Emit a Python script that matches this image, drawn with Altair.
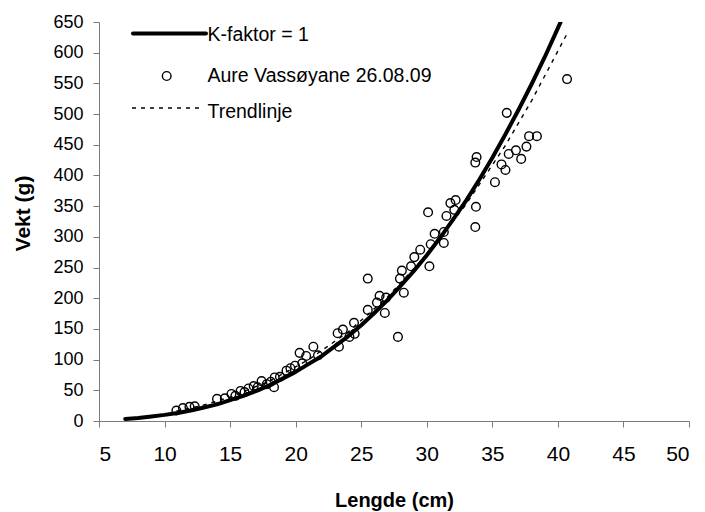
import pandas as pd
import altair as alt

# K-faktor = 1 curve
k_len = [7, 8, 9, 10, 11, 12, 13, 14, 15, 16, 17, 18, 19, 20, 21, 22, 23, 24,
         25, 26, 27, 28, 29, 30, 31, 32, 33, 34, 35, 36, 37, 38, 39, 40, 40.5]
k_wt = [3.4, 5, 7.5, 10, 13, 17, 22, 27, 34, 41, 49, 58, 69, 80, 93, 106, 122, 138,
        156, 176, 197, 220, 244, 270, 298, 328, 359, 393, 429, 467, 507, 549, 593, 640, 664]

# fish sampled at Vassøyane 26.08.09
fish_len = [10.9, 11.4, 11.9, 12.3, 14.0, 14.6, 15.1, 15.4, 15.8, 16.1, 16.4, 16.8,
            17.1, 17.4, 17.8, 18.1, 18.35, 18.4, 18.8, 19.3, 19.6, 19.95, 20.3, 20.5,
            20.8, 21.35, 21.7, 23.2, 23.3, 23.6, 24.1, 24.45, 24.5, 25.5, 25.5, 26.2,
            26.4, 26.8, 26.9, 27.8, 27.95, 28.1, 28.25, 28.8, 29.05, 29.5, 30.1, 30.2,
            30.3, 30.6, 31.3, 31.3, 31.5, 31.8, 32.1, 32.2, 33.7, 33.75, 33.7, 33.8,
            35.2, 35.7, 36.0, 36.1, 36.25, 36.8, 37.2, 37.6, 37.8, 38.4, 40.7]
fish_wt = [17, 21, 23, 24, 36, 37, 44, 41, 49, 47, 53, 57,
           55, 65, 60, 64, 55, 71, 72, 82, 86, 90, 111, 94,
           106, 121, 107, 143, 121, 149, 137, 160, 142, 181, 232, 193,
           204, 176, 201, 137, 232, 245, 209, 252, 267, 279, 340, 252,
           288, 305, 290, 308, 334, 355, 344, 360, 316, 349, 421, 430,
           389, 418, 409, 502, 435, 441, 427, 447, 464, 464, 557]

# trendline
trend_len = [10.9, 13, 15, 18, 21, 24, 27, 30, 33, 36, 38, 40.7]
trend_wt = [16, 26, 39, 65, 100, 145, 202, 271, 353, 449, 522, 631]

x_ticks = [5, 10, 15, 20, 25, 30, 35, 40, 45, 50]
y_ticks = [0, 50, 100, 150, 200, 250, 300, 350, 400, 450, 500, 550, 600, 650]

legend_labels = ["K-faktor = 1", "Aure Vassøyane 26.08.09", "Trendlinje"]

k_df = pd.DataFrame({"Lengde": k_len, "Vekt": k_wt})
fish_df = pd.DataFrame({"Lengde": fish_len, "Vekt": fish_wt})
trend_df = pd.DataFrame({"Lengde": trend_len, "Vekt": trend_wt})

axis_grey = "#7a7a7a"
x_scale = alt.Scale(domain=[5, 50], nice=False)
y_scale = alt.Scale(domain=[0, 650], nice=False)

x_axis = alt.Axis(values=x_ticks, grid=False, tickSize=6, labelOverlap=False,
                  tickColor=axis_grey, domainColor=axis_grey, labelFontSize=21,
                  labelPadding=16, labelColor="black", title="Lengde (cm)",
                  titleFontSize=20, titleFontWeight="bold", titleColor="black",
                  titleX=295, titleY=85, titleBaseline="alphabetic")
y_axis = alt.Axis(values=y_ticks, grid=False, tickSize=6, labelOverlap=False,
                  tickColor=axis_grey, domainColor=axis_grey, labelFontSize=18,
                  labelPadding=10, labelColor="black", title="Vekt (g)",
                  titleFontSize=21, titleFontWeight="bold", titleColor="black",
                  titleAngle=270, titleX=-76, titleY=191, titleAlign="center",
                  titleBaseline="middle")

enc_x = alt.X("Lengde:Q", scale=x_scale, axis=x_axis)
enc_y = alt.Y("Vekt:Q", scale=y_scale, axis=y_axis)

k_line = alt.Chart(k_df).mark_line(color="black", strokeWidth=4, clip=True,
                                   strokeCap="round", strokeJoin="round").encode(enc_x, enc_y)

fish = alt.Chart(fish_df).mark_point(shape="circle", filled=False, color="black",
                                     size=75, strokeWidth=1.4, opacity=1).encode(enc_x, enc_y)

trend = alt.Chart(trend_df).mark_line(color="black", strokeWidth=1.4,
                                      strokeDash=[4, 5]).encode(enc_x, enc_y)

# legend drawn by hand, top left inside the plot
one = pd.DataFrame({"a": [0]})
leg_k = alt.Chart(one).mark_rule(color="black", strokeWidth=4, strokeCap="round").encode(
    x=alt.value(34), x2=alt.value(107), y=alt.value(11.5))
leg_pt = alt.Chart(one).mark_point(shape="circle", filled=False, color="black",
                                   size=75, strokeWidth=1.4, opacity=1).encode(
    x=alt.value(67.7), y=alt.value(54))
leg_tr = alt.Chart(one).mark_rule(color="black", strokeWidth=1.4, strokeDash=[4, 5]).encode(
    x=alt.value(33), x2=alt.value(102), y=alt.value(86))

leg_texts = []
for label, ypos in zip(legend_labels, [18.7, 59.7, 96.3]):
    leg_texts.append(
        alt.Chart(one).mark_text(align="left", baseline="alphabetic", fontSize=19.5,
                                 color="black").encode(
            x=alt.value(108.5), y=alt.value(ypos), text=alt.value(label))
    )

chart = alt.layer(k_line, fish, trend, leg_k, leg_pt, leg_tr, *leg_texts).properties(
    width=590, height=399,
    autosize=alt.AutoSizeParams(type="none"),
    padding={"left": 91, "top": 14, "right": 8, "bottom": 91},
).configure(
    font="Liberation Sans",
).configure_view(strokeWidth=0)

chart.save("out.html", embed_options={"renderer": "svg", "actions": False})
